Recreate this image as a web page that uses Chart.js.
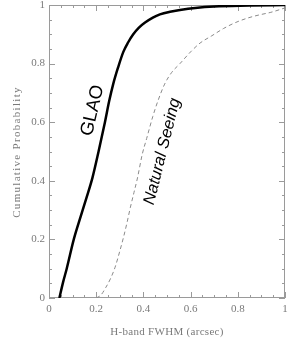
<!DOCTYPE html>
<html>
<head>
<meta charset="utf-8">
<script src="https://cdn.jsdelivr.net/npm/chart.js@4.4.1/dist/chart.umd.min.js"></script>
<style>
  html, body { margin: 0; padding: 0; background: #fff; }
  #wrap { width: 300px; height: 342px; }
</style>
</head>
<body>
<div id="wrap"><canvas id="cdfChart"></canvas></div>
<script>
// Cumulative distributions
const glaoX = [0.044, 0.06, 0.075, 0.105, 0.135, 0.16, 0.184, 0.21, 0.237, 0.255, 0.272, 0.292, 0.315, 0.335, 0.357, 0.38, 0.407, 0.44, 0.47, 0.513, 0.555, 0.62, 0.7, 0.85, 1.0];
const glaoY = [0, 0.055, 0.1, 0.2, 0.28, 0.345, 0.41, 0.5, 0.6, 0.672, 0.73, 0.785, 0.84, 0.872, 0.9, 0.922, 0.94, 0.957, 0.968, 0.977, 0.983, 0.99, 0.995, 0.998, 1.0];

const seeingX = [0.2, 0.22, 0.24, 0.26, 0.28, 0.3, 0.315, 0.33, 0.345, 0.36, 0.375, 0.395, 0.414, 0.44, 0.463, 0.49, 0.52, 0.555, 0.6, 0.64, 0.69, 0.74, 0.79, 0.84, 0.89, 0.94, 1.0];
const seeingY = [0, 0.01, 0.035, 0.065, 0.105, 0.16, 0.205, 0.255, 0.31, 0.36, 0.41, 0.49, 0.545, 0.62, 0.676, 0.73, 0.77, 0.8, 0.84, 0.87, 0.895, 0.92, 0.94, 0.955, 0.966, 0.975, 0.99];

const xTickValues = [0, 0.2, 0.4, 0.6, 0.8, 1];
const xTickLabels = ['0', '0.2', '0.4', '0.6', '0.8', '1'];
const yTickValues = [0, 0.2, 0.4, 0.6, 0.8, 1];
const yTickLabels = ['0', '0.2', '0.4', '0.6', '0.8', '1'];

const xTitle = 'H-band FWHM (arcsec)';
const yTitle = 'Cumulative Probability';

const toPoints = (xs, ys) => xs.map((x, i) => ({ x: x, y: ys[i] }));

// frame with inward ticks on all four sides
const framePlugin = {
    id: 'frame',
    beforeDatasetsDraw(chart) {
        const { ctx, chartArea: a, scales } = chart;
        ctx.save();
        ctx.strokeStyle = '#9a9a9a';
        ctx.lineWidth = 1;
        ctx.strokeRect(a.left + 0.5, a.top + 0.5, a.right - a.left - 1, a.bottom - a.top - 1);
        ctx.beginPath();
        for (let k = 0; k <= 20; k++) {
            const v = k * 0.05;
            const len = (k % 4 === 0) ? 6 : 3;
            const px = Math.round(scales.x.getPixelForValue(v)) + 0.5;
            const py = Math.round(scales.y.getPixelForValue(v)) + 0.5;
            ctx.moveTo(px, a.bottom); ctx.lineTo(px, a.bottom - len);
            ctx.moveTo(px, a.top); ctx.lineTo(px, a.top + len);
            ctx.moveTo(a.left, py); ctx.lineTo(a.left + len, py);
            ctx.moveTo(a.right, py); ctx.lineTo(a.right - len, py);
        }
        ctx.stroke();
        ctx.restore();
    },
    afterDraw(chart) {
        const { ctx, chartArea: a, scales } = chart;
        ctx.save();
        // axis titles
        ctx.fillStyle = '#7a7a7a';
        ctx.font = '11px "Liberation Serif"';
        ctx.textAlign = 'center';
        ctx.textBaseline = 'middle';
        ctx.letterSpacing = '0.3px';
        ctx.fillText(xTitle, (a.left + a.right) / 2, 332);
        ctx.save();
        ctx.translate(17, 152);
        ctx.rotate(-Math.PI / 2);
        ctx.letterSpacing = '1.3px';
        ctx.fillText(yTitle, 0, 0);
        ctx.restore();

        // curve labels
        ctx.letterSpacing = '0px';
        ctx.fillStyle = '#000';
        ctx.save();
        ctx.translate(scales.x.getPixelForValue(0.185), scales.y.getPixelForValue(0.64));
        ctx.rotate(-77 * Math.PI / 180);
        ctx.font = '18.5px "Liberation Sans"';
        ctx.fillText('GLAO', 0, 0);
        ctx.restore();
        ctx.save();
        ctx.translate(scales.x.getPixelForValue(0.48), scales.y.getPixelForValue(0.5));
        ctx.rotate(-76 * Math.PI / 180);
        ctx.font = 'italic 16.5px "Liberation Sans"';
        ctx.fillText('Natural Seeing', 0, 0);
        ctx.restore();
        ctx.restore();
    }
};

const ctx = document.getElementById('cdfChart').getContext('2d');
new Chart(ctx, {
    type: 'scatter',
    data: {
        datasets: [{
            label: 'GLAO',
            data: toPoints(glaoX, glaoY),
            showLine: true,
            borderColor: '#000',
            borderWidth: 2.5,
            pointRadius: 0,
            cubicInterpolationMode: 'monotone'
        }, {
            label: 'Natural Seeing',
            data: toPoints(seeingX, seeingY),
            showLine: true,
            borderColor: '#8a8a8a',
            borderWidth: 1,
            borderDash: [4, 3],
            pointRadius: 0,
            cubicInterpolationMode: 'monotone'
        }]
    },
    options: {
        responsive: true,
        maintainAspectRatio: false,
        animation: false,
        layout: { padding: { left: 0, right: 15, top: 5, bottom: 0 } },
        plugins: {
            legend: { display: false },
            tooltip: { enabled: false }
        },
        scales: {
            x: {
                type: 'linear',
                min: 0,
                max: 1,
                grid: { display: false, drawTicks: false },
                border: { display: false },
                afterBuildTicks: s => { s.ticks = xTickValues.map(v => ({ value: v })); },
                afterFit: s => { s.height = 44; s.paddingLeft = 0; s.paddingRight = 0; },
                ticks: {
                    color: '#7a7a7a',
                    font: { family: 'Liberation Serif', size: 11 },
                    padding: 5,
                    maxRotation: 0,
                    autoSkip: false,
                    callback: (v, i) => xTickLabels[i]
                }
            },
            y: {
                type: 'linear',
                min: 0,
                max: 1,
                grid: { display: false, drawTicks: false },
                border: { display: false },
                afterBuildTicks: s => { s.ticks = yTickValues.map(v => ({ value: v })); },
                afterFit: s => { s.width = 49; s.paddingTop = 0; s.paddingBottom = 0; },
                ticks: {
                    color: '#7a7a7a',
                    font: { family: 'Liberation Serif', size: 11 },
                    padding: 4,
                    callback: (v, i) => yTickLabels[i]
                }
            }
        }
    },
    plugins: [framePlugin]
});
</script>
</body>
</html>
